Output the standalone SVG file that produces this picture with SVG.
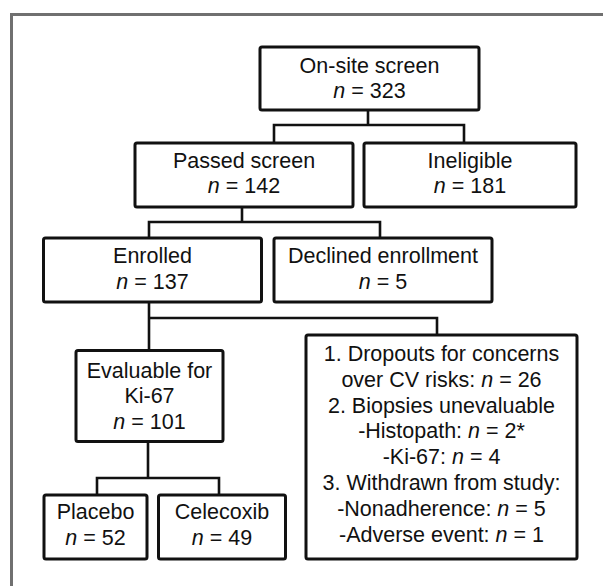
<svg xmlns="http://www.w3.org/2000/svg" width="603" height="586" viewBox="0 0 603 586">
<style>
.box{fill:#fff;stroke:#111;stroke-width:3}
.t{font-family:"Liberation Sans",Arial,sans-serif;font-size:21.5px;fill:#111;text-anchor:middle}
.i{font-style:italic}
.c{fill:none;stroke:#111;stroke-width:2.6}
</style>
<rect width="603" height="586" fill="#fff"/>
<path d="M11.5 586 V14.5 H603" fill="none" stroke="#707070" stroke-width="3"/>
<g id="connectors">
<path class="c" d="M368 110 V125 M274 143 V125 H464 V143"/>
<path class="c" d="M242 207 V222 M149 238 V222 H380 V238"/>
<path class="c" d="M149 302 V350 M149 318 H437 V335"/>
<path class="c" d="M148 442 V478 M97 495 V478 H219 V495"/>
</g>
<g id="onsite">
<rect class="box" x="260" y="47" width="219" height="63" rx="2"/>
<text class="t" x="369.5" y="73">On-site screen</text>
<text class="t" x="369.5" y="97.5"><tspan class="i">n</tspan> = 323</text>
</g>
<g id="passed">
<rect class="box" x="135" y="143" width="218" height="64" rx="2"/>
<text class="t" x="244" y="167.5">Passed screen</text>
<text class="t" x="244" y="193"><tspan class="i">n</tspan> = 142</text>
</g>
<g id="ineligible">
<rect class="box" x="364" y="143" width="212" height="64" rx="2"/>
<text class="t" x="470" y="167.5">Ineligible</text>
<text class="t" x="470" y="193"><tspan class="i">n</tspan> = 181</text>
</g>
<g id="enrolled">
<rect class="box" x="43.5" y="238" width="218" height="64" rx="2"/>
<text class="t" x="152.5" y="263">Enrolled</text>
<text class="t" x="152.5" y="288.5"><tspan class="i">n</tspan> = 137</text>
</g>
<g id="declined">
<rect class="box" x="274" y="238" width="218" height="64" rx="2"/>
<text class="t" x="383" y="263">Declined enrollment</text>
<text class="t" x="383" y="288.5"><tspan class="i">n</tspan> = 5</text>
</g>
<g id="evaluable">
<rect class="box" x="76" y="350.5" width="147" height="91" rx="2"/>
<text class="t" x="149.5" y="377.5">Evaluable for</text>
<text class="t" x="149.5" y="403.3">Ki-67</text>
<text class="t" x="149.5" y="429.3"><tspan class="i">n</tspan> = 101</text>
</g>
<g id="placebo">
<rect class="box" x="44" y="495" width="103" height="64" rx="2"/>
<text class="t" x="95.5" y="519">Placebo</text>
<text class="t" x="95.5" y="544.5"><tspan class="i">n</tspan> = 52</text>
</g>
<g id="celecoxib">
<rect class="box" x="158.5" y="495" width="127" height="64" rx="2"/>
<text class="t" x="222" y="519">Celecoxib</text>
<text class="t" x="222" y="544.5"><tspan class="i">n</tspan> = 49</text>
</g>
<g id="exclusions">
<rect class="box" x="306" y="335" width="271" height="224" rx="2"/>
<text class="t" x="441.5" y="361">1. Dropouts for concerns</text>
<text class="t" x="441.5" y="386.8">over CV risks: <tspan class="i">n</tspan> = 26</text>
<text class="t" x="441.5" y="412.6">2. Biopsies unevaluable</text>
<text class="t" x="441.5" y="438.4">-Histopath: <tspan class="i">n</tspan> = 2*</text>
<text class="t" x="441.5" y="464.2">-Ki-67: <tspan class="i">n</tspan> = 4</text>
<text class="t" x="441.5" y="490">3. Withdrawn from study:</text>
<text class="t" x="441.5" y="515.8">-Nonadherence: <tspan class="i">n</tspan> = 5</text>
<text class="t" x="441.5" y="541.6">-Adverse event: <tspan class="i">n</tspan> = 1</text>
</g>
</svg>
